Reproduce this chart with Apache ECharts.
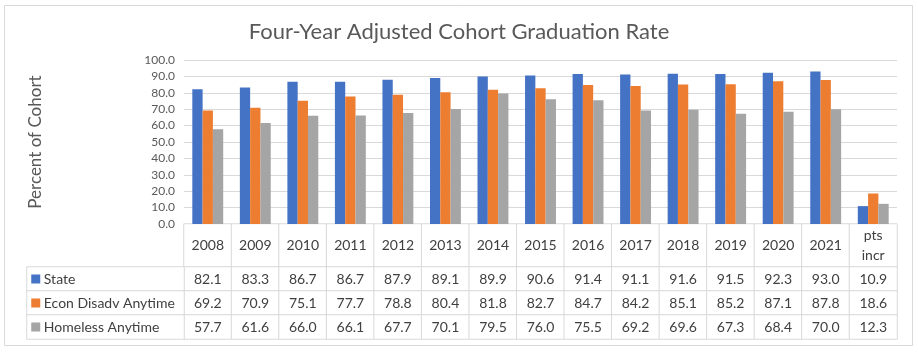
<!DOCTYPE html>
<html>
<head>
<meta charset="utf-8">
<script src="https://cdn.jsdelivr.net/npm/echarts@6/dist/echarts.min.js"></script>
<style>
  html, body { margin: 0; padding: 0; background: #fff; }
  #chart { width: 918px; height: 352px; }
</style>
</head>
<body>
<div id="chart"></div>
<script>
const categories = ['2008', '2009', '2010', '2011', '2012', '2013', '2014', '2015', '2016', '2017', '2018', '2019', '2020', '2021', 'pts\nincr'];
const seriesNames = ['State', 'Econ Disadv Anytime', 'Homeless Anytime'];
const state = [82.1, 83.3, 86.7, 86.7, 87.9, 89.1, 89.9, 90.6, 91.4, 91.1, 91.6, 91.5, 92.3, 93.0, 10.9];
const econ = [69.2, 70.9, 75.1, 77.7, 78.8, 80.4, 81.8, 82.7, 84.7, 84.2, 85.1, 85.2, 87.1, 87.8, 18.6];
const homeless = [57.7, 61.6, 66.0, 66.1, 67.7, 70.1, 79.5, 76.0, 75.5, 69.2, 69.6, 67.3, 68.4, 70.0, 12.3];
const yTicks = { min: 0, max: 100, interval: 10 };

const COLORS = ['#4472c4', '#ed7d31', '#a5a5a5'];
const FONT = 'Lato';
const LINE = '#d9d9d9';
const TEXT = '#404040';
const values = [state, econ, homeless];

const chart = echarts.init(document.getElementById('chart'));

const cellStyle = { color: '#fff', borderColor: LINE, borderWidth: 1 };
const plotLeft = 184, plotWidth = 713;

const hiddenCat = (gridIndex, data, inverse) => ({
  type: 'category', gridIndex, data, inverse: !!inverse,
  axisLine: { show: false }, axisTick: { show: false }, axisLabel: { show: false },
  splitLine: { show: false }
});

const headerData = categories.map((c, i) => [i, 0, 0]);
const valueData = [];
values.forEach((arr, r) => arr.forEach((v, i) => valueData.push([i, r, v])));
const legendData = seriesNames.map((n, r) => [0, r, 0]);

chart.setOption({
  animation: false,
  textStyle: { fontFamily: FONT },
  title: {
    text: 'Four-Year Adjusted Cohort Graduation Rate',
    left: 'center', top: 16,
    textStyle: { fontFamily: FONT, fontSize: 22, fontWeight: 'normal', color: '#595959' }
  },
  graphic: [{
    type: 'rect', shape: { x: 4.5, y: 5.5, width: 908, height: 340 },
    style: { fill: 'none', stroke: LINE, lineWidth: 1 }, silent: true
  }],
  grid: [
    { left: plotLeft, width: plotWidth, top: 60, height: 164 },
    { left: plotLeft, width: plotWidth, top: 224, height: 43 },
    { left: plotLeft, width: plotWidth, top: 267, height: 72 },
    { left: 27, width: 157, top: 267, height: 72 }
  ],
  xAxis: [
    hiddenCat(0, categories),
    hiddenCat(1, categories),
    hiddenCat(2, categories),
    hiddenCat(3, ['legend'])
  ],
  yAxis: [
    {
      type: 'value', gridIndex: 0, min: yTicks.min, max: yTicks.max, interval: yTicks.interval,
      axisLine: { show: false }, axisTick: { show: false },
      axisLabel: { color: '#595959', fontSize: 12, fontFamily: FONT, margin: 9, formatter: v => v.toFixed(1) },
      splitLine: { lineStyle: { color: LINE, width: 1 } },
      name: 'Percent of Cohort', nameLocation: 'middle', nameRotate: 90, nameGap: 140,
      nameTextStyle: { color: '#595959', fontSize: 17, fontFamily: FONT }
    },
    hiddenCat(1, ['h']),
    hiddenCat(2, seriesNames, true),
    hiddenCat(3, seriesNames, true)
  ],
  series: [
    ...seriesNames.map((name, k) => ({
      name, type: 'bar', xAxisIndex: 0, yAxisIndex: 0,
      data: values[k], barGap: '0%', barCategoryGap: '35%',
      itemStyle: { color: COLORS[k] }, silent: true
    })),
    {
      type: 'heatmap', xAxisIndex: 1, yAxisIndex: 1, data: headerData,
      itemStyle: cellStyle, silent: true, emphasis: { disabled: true },
      label: {
        show: true, color: TEXT, fontSize: 14, fontFamily: FONT, lineHeight: 20,
        formatter: p => categories[p.data[0]]
      }
    },
    {
      type: 'heatmap', xAxisIndex: 2, yAxisIndex: 2, data: valueData,
      itemStyle: cellStyle, silent: true, emphasis: { disabled: true },
      label: {
        show: true, color: TEXT, fontSize: 14, fontFamily: FONT,
        formatter: p => p.data[2].toFixed(1)
      }
    },
    {
      type: 'heatmap', xAxisIndex: 3, yAxisIndex: 3, data: legendData,
      itemStyle: cellStyle, silent: true, emphasis: { disabled: true },
      label: {
        show: true, position: 'insideLeft', distance: 5, color: TEXT, fontSize: 14, fontFamily: FONT,
        formatter: p => '{s' + p.data[1] + '|}' + ' ' + seriesNames[p.data[1]],
        rich: {
          s0: { width: 9, height: 9, backgroundColor: COLORS[0] },
          s1: { width: 9, height: 9, backgroundColor: COLORS[1] },
          s2: { width: 9, height: 9, backgroundColor: COLORS[2] }
        }
      }
    }
  ]
});
</script>
</body>
</html>
